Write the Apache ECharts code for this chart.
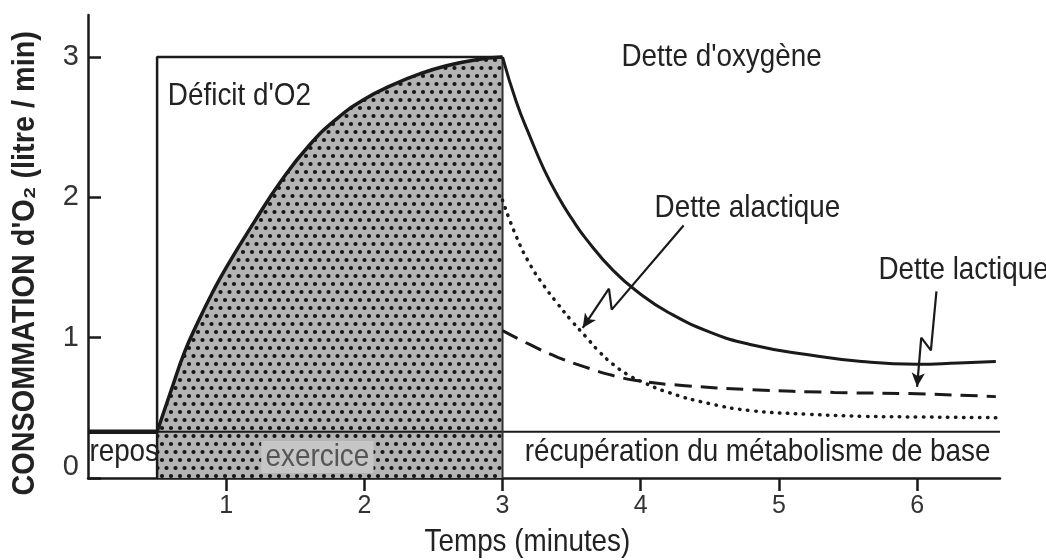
<!DOCTYPE html>
<html><head><meta charset="utf-8">
<script src="https://cdn.jsdelivr.net/npm/echarts@6/dist/echarts.min.js"></script>
<style>html,body{margin:0;padding:0;background:#fff}#c{width:1046px;height:560px}</style>
</head><body><div id="c"></div>
<script>
// ---- data ----
const xTicks = [1, 2, 3, 4, 5, 6];
const yTicks = [0, 1, 2, 3];
const restT = [0, 0.5];
const restV = [0.33, 0.33];
const baselineT = [0.5, 6.6];
const baselineV = [0.33, 0.33];
const requiredT = [0.5, 0.5, 3];
const requiredV = [0, 3, 3];
const riseT = [0.5, 0.6, 0.7, 0.8, 0.9, 1.0, 1.2, 1.4, 1.6, 1.8, 2.0, 2.2, 2.4, 2.6, 2.8, 3.0];
const riseV = [0.33, 0.62, 0.9, 1.12, 1.32, 1.5, 1.82, 2.12, 2.37, 2.56, 2.7, 2.8, 2.88, 2.94, 2.98, 3.0];
const exerciseEndT = [3, 3];
const exerciseEndV = [0, 3];
const recoveryT = [3.0, 3.1, 3.2, 3.3, 3.4, 3.5, 3.6, 3.8, 4.0, 4.2, 4.5, 4.8, 5.2, 5.6, 6.0, 6.3, 6.57];
const recoveryV = [3.0, 2.68, 2.43, 2.2, 2.01, 1.85, 1.71, 1.48, 1.31, 1.18, 1.04, 0.95, 0.88, 0.83, 0.81, 0.82, 0.83];
const alacticT = [3.0, 3.1, 3.2, 3.3, 3.4, 3.5, 3.6, 3.7, 3.8, 3.9, 4.0, 4.2, 4.5, 4.8, 5.2, 5.6, 6.0, 6.57];
const alacticV = [1.98, 1.72, 1.52, 1.37, 1.24, 1.12, 1.01, 0.9, 0.81, 0.74, 0.69, 0.61, 0.53, 0.48, 0.455, 0.44, 0.435, 0.43];
const lacticT = [3.0, 3.2, 3.4, 3.6, 3.8, 4.0, 4.3, 4.8, 5.4, 6.0, 6.57];
const lacticV = [1.05, 0.95, 0.86, 0.79, 0.73, 0.69, 0.66, 0.63, 0.61, 0.6, 0.58];
const alacticPtrT = [4.31, 3.79, 3.77, 3.58];
const alacticPtrV = [1.80, 1.20, 1.35, 1.07];
const lacticPtrT = [6.14, 6.10, 6.03, 6.00];
const lacticPtrV = [1.33, 0.91, 1.00, 0.65];
const noteTexts = ["Déficit d'O2", "Dette d'oxygène", "Dette alactique", "Dette lactique", "repos", "exercice", "récupération du métabolisme de base"];
const xTitle = 'Temps (minutes)';
const yTitle = "CONSOMMATION d'O₂ (litre / min)";

// ---- layout / style ----
const notePos = [[0.578, 2.72], [3.86, 3.0], [4.10, 1.92], [5.72, 1.48], [0.01, 0.185], [1.66, 0.15], [3.16, 0.185]];
const xTitlePos = [3.18, -0.46];
const yTitlePos = [-0.455, 1.53];
const FONT = "'Liberation Sans',Arial,sans-serif";
const INK = '#1a1a1a';
const SQUEEZE = 0.87;
function pairs(t, v) { return t.map((x, i) => [x, v[i]]); }

const pc = document.createElement('canvas');
pc.width = 18; pc.height = 16;
const g = pc.getContext('2d');
g.fillStyle = '#b4b4b4'; g.fillRect(0, 0, 18, 16);
g.fillStyle = '#161616';
[[4.5, 4], [13.5, 4], [0, 12], [9, 12], [18, 12]].forEach(([x, y]) => { g.beginPath(); g.arc(x, y, 2.1, 0, Math.PI * 2); g.fill(); });

const base = { type: 'line', symbol: 'none', silent: true, animation: false };
function ptrSeries(t, v) {
  const n = t.length;
  return Object.assign({}, base, {
    data: pairs(t, v).slice(0, n - 1),
    lineStyle: { color: INK, width: 2.2 }, z: 6,
    markLine: {
      silent: true, symbol: ['none', 'arrow'], symbolSize: [10, 14], label: { show: false },
      lineStyle: { color: INK, width: 2.2, type: 'solid' },
      data: [[{ coord: [t[n - 2], v[n - 2]] }, { coord: [t[n - 1], v[n - 1]] }]]
    }
  });
}

const chart = echarts.init(document.getElementById('c'));
chart.setOption({
  animation: false,
  grid: { left: 88, right: 46, top: 15, bottom: 82 },
  xAxis: {
    type: 'value', min: 0, max: 6.6, interval: 1,
    axisLine: { show: true, onZero: false, lineStyle: { color: INK, width: 2.5 } },
    axisTick: { show: true, length: 13, customValues: xTicks, lineStyle: { color: INK, width: 2.5 } },
    axisLabel: { margin: 16, color: '#333', fontFamily: FONT, fontSize: 25, customValues: xTicks },
    splitLine: { show: false }
  },
  yAxis: {
    type: 'value', min: 0, max: 3.3, interval: 1,
    axisLine: { show: true, lineStyle: { color: INK, width: 2.5 } },
    axisTick: { show: true, inside: true, length: 13, customValues: yTicks, lineStyle: { color: INK, width: 2.5 } },
    axisLabel: {
      margin: 9, color: '#333', fontFamily: FONT, fontSize: 29, customValues: yTicks,
      formatter: v => v === 0 ? '{z|0}' : String(v),
      rich: { z: { fontFamily: FONT, fontSize: 29, color: '#333', padding: [0, 0, 22, 0] } }
    },
    splitLine: { show: false }
  },
  series: [
    Object.assign({}, base, { data: pairs(riseT, riseV), smooth: 0.5, lineStyle: { width: 0 },
      areaStyle: { color: { image: pc, repeat: 'repeat' }, opacity: 1 }, z: 1 }),
    Object.assign({}, base, { data: pairs(baselineT, baselineV), lineStyle: { color: INK, width: 2 }, z: 3 }),
    Object.assign({}, base, { data: pairs(requiredT, requiredV), lineStyle: { color: INK, width: 2.5 }, z: 3 }),
    Object.assign({}, base, { data: pairs(exerciseEndT, exerciseEndV), lineStyle: { color: '#333', width: 2 }, z: 3 }),
    Object.assign({}, base, { data: pairs(restT, restV), lineStyle: { color: INK, width: 4.5 }, z: 4 }),
    Object.assign({}, base, { data: pairs(riseT, riseV), smooth: 0.5, lineStyle: { color: INK, width: 3.5 }, z: 4 }),
    Object.assign({}, base, { data: pairs(recoveryT, recoveryV), smooth: 0.5, lineStyle: { color: INK, width: 3 }, z: 4 }),
    Object.assign({}, base, { data: pairs(alacticT, alacticV), smooth: 0.5, lineStyle: { color: INK, width: 3.5, type: [0.5, 7.5], cap: 'round' }, z: 4 }),
    Object.assign({}, base, { data: pairs(lacticT, lacticV), smooth: 0.5, lineStyle: { color: INK, width: 3, type: [17, 9] }, z: 4 }),
    ptrSeries(alacticPtrT, alacticPtrV),
    ptrSeries(lacticPtrT, lacticPtrV)
  ]
});

function px(pt) { return chart.convertToPixel({ gridIndex: 0 }, pt); }
const graphics = noteTexts.map((txt, i) => {
  const p = px(notePos[i]);
  const isEx = txt === 'exercice';
  return {
    type: 'text', x: p[0], y: p[1], scaleX: SQUEEZE, silent: true, z: 20,
    style: {
      text: txt, fontFamily: FONT, fontSize: 32, fill: isEx ? '#555' : '#222',
      align: isEx ? 'center' : 'left', verticalAlign: 'middle',
      backgroundColor: isEx ? '#c6c6c6' : null, padding: isEx ? [0, 5] : 0
    }
  };
});
const xt = px(xTitlePos);
graphics.push({
  type: 'text', x: xt[0], y: xt[1], scaleX: SQUEEZE, silent: true, z: 20,
  style: { text: xTitle, fontFamily: FONT, fontSize: 32, fill: '#222', align: 'center', verticalAlign: 'middle' }
});
const yt = px(yTitlePos);
graphics.push({
  type: 'text', x: yt[0], y: yt[1], rotation: Math.PI / 2, scaleX: 0.93, silent: true, z: 20,
  style: { text: yTitle, fontFamily: FONT, fontSize: 31, fontWeight: 'bold', fill: '#222', align: 'center', verticalAlign: 'middle' }
});
chart.setOption({ graphic: graphics });
</script>
</body></html>
